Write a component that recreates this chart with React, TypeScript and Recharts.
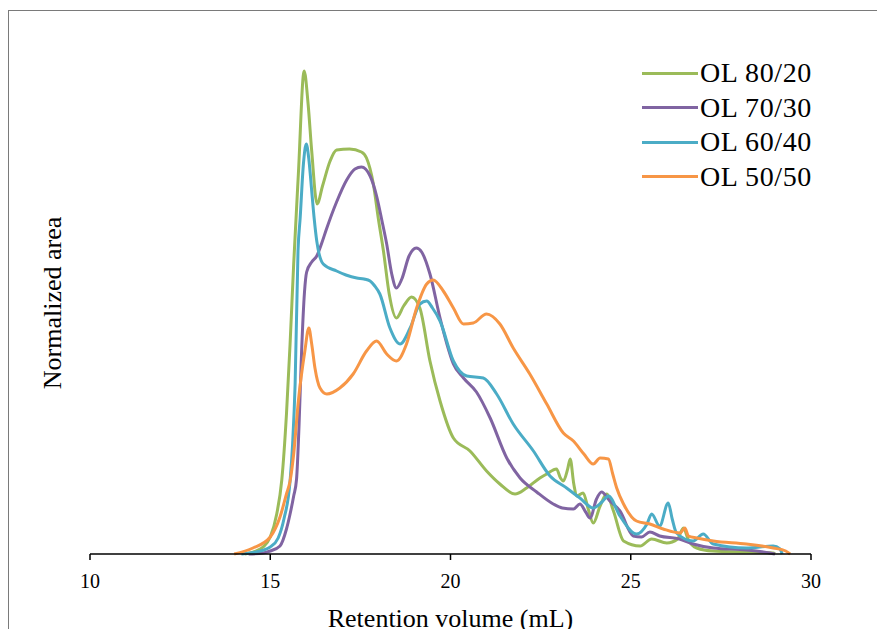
import { Legend, Line, LineChart, XAxis, YAxis } from "recharts";

// retention volume (mL) vs normalized area
const ol8020 = [
  { v: 14.3, a: 0 }, { v: 14.6, a: 3 }, { v: 14.8, a: 7 }, { v: 15.0, a: 17 }, { v: 15.18, a: 40 },
  { v: 15.32, a: 74 }, { v: 15.45, a: 140 }, { v: 15.55, a: 210 }, { v: 15.65, a: 290 }, { v: 15.78, a: 380 },
  { v: 15.94, a: 483 }, { v: 16.05, a: 450 }, { v: 16.15, a: 403 }, { v: 16.3, a: 350 }, { v: 16.45, a: 368 },
  { v: 16.66, a: 393 }, { v: 16.84, a: 404 }, { v: 17.2, a: 405 }, { v: 17.53, a: 402 }, { v: 17.67, a: 396 },
  { v: 17.86, a: 370 }, { v: 18.0, a: 335 }, { v: 18.14, a: 303 }, { v: 18.3, a: 260 }, { v: 18.5, a: 236 },
  { v: 18.7, a: 248 }, { v: 18.92, a: 257 }, { v: 19.15, a: 246 }, { v: 19.43, a: 193 }, { v: 19.71, a: 153 },
  { v: 20.08, a: 116 }, { v: 20.54, a: 103 }, { v: 21.0, a: 83 }, { v: 21.37, a: 70 }, { v: 21.79, a: 60 },
  { v: 22.11, a: 66 }, { v: 22.48, a: 76 }, { v: 22.67, a: 80 }, { v: 22.94, a: 85 }, { v: 23.05, a: 76 },
  { v: 23.13, a: 73 }, { v: 23.25, a: 85 }, { v: 23.32, a: 95 }, { v: 23.42, a: 70 }, { v: 23.5, a: 58 },
  { v: 23.68, a: 61 }, { v: 23.82, a: 45 }, { v: 23.96, a: 31 }, { v: 24.15, a: 48 }, { v: 24.33, a: 60 },
  { v: 24.52, a: 43 }, { v: 24.8, a: 13 }, { v: 25.26, a: 8 }, { v: 25.58, a: 15 }, { v: 26.0, a: 11 },
  { v: 26.3, a: 15 }, { v: 26.46, a: 26 }, { v: 26.6, a: 14 }, { v: 26.83, a: 6 }, { v: 27.28, a: 3 },
  { v: 28.2, a: 2 }, { v: 28.95, a: 1 }, { v: 29.0, a: 0 },
];

const ol7030 = [
  { v: 14.4, a: 0 }, { v: 14.8, a: 1 }, { v: 15.0, a: 3 }, { v: 15.27, a: 8 }, { v: 15.45, a: 25 },
  { v: 15.55, a: 40 }, { v: 15.65, a: 58 }, { v: 15.73, a: 75 }, { v: 15.8, a: 130 }, { v: 15.87, a: 203 },
  { v: 15.95, a: 262 }, { v: 16.01, a: 282 }, { v: 16.15, a: 292 }, { v: 16.29, a: 298 }, { v: 16.42, a: 310 },
  { v: 16.56, a: 325 }, { v: 16.84, a: 352 }, { v: 17.12, a: 374 }, { v: 17.35, a: 385 }, { v: 17.53, a: 387 },
  { v: 17.77, a: 378 }, { v: 17.95, a: 358 }, { v: 18.1, a: 333 }, { v: 18.23, a: 310 }, { v: 18.37, a: 280 },
  { v: 18.5, a: 266 }, { v: 18.65, a: 275 }, { v: 18.85, a: 298 }, { v: 19.05, a: 306 }, { v: 19.2, a: 302 },
  { v: 19.43, a: 280 }, { v: 19.71, a: 236 }, { v: 19.9, a: 210 }, { v: 20.08, a: 190 }, { v: 20.36, a: 176 },
  { v: 20.72, a: 162 }, { v: 21.1, a: 136 }, { v: 21.56, a: 96 }, { v: 21.93, a: 76 }, { v: 22.39, a: 62 },
  { v: 22.85, a: 50 }, { v: 23.1, a: 46 }, { v: 23.41, a: 45 }, { v: 23.59, a: 50 }, { v: 23.75, a: 42 },
  { v: 23.87, a: 36 }, { v: 24.05, a: 55 }, { v: 24.19, a: 62 }, { v: 24.42, a: 53 }, { v: 24.7, a: 43 },
  { v: 25.07, a: 18 }, { v: 25.3, a: 17 }, { v: 25.53, a: 22 }, { v: 25.8, a: 18 }, { v: 26.35, a: 15 },
  { v: 26.73, a: 10 }, { v: 27.29, a: 6 }, { v: 28.21, a: 4 }, { v: 28.86, a: 1 }, { v: 29.0, a: 0 },
];

const ol6040 = [
  { v: 14.2, a: 0 }, { v: 14.6, a: 2 }, { v: 15.0, a: 7 }, { v: 15.22, a: 16 }, { v: 15.38, a: 35 },
  { v: 15.55, a: 73 }, { v: 15.62, a: 110 }, { v: 15.69, a: 170 }, { v: 15.77, a: 303 }, { v: 15.83, a: 336 },
  { v: 15.92, a: 390 }, { v: 16.0, a: 410 }, { v: 16.07, a: 395 }, { v: 16.15, a: 363 }, { v: 16.22, a: 335 },
  { v: 16.29, a: 313 }, { v: 16.47, a: 290 }, { v: 16.84, a: 283 }, { v: 17.1, a: 279 }, { v: 17.4, a: 276 },
  { v: 17.6, a: 275 }, { v: 17.77, a: 273 }, { v: 17.9, a: 268 }, { v: 18.04, a: 260 }, { v: 18.32, a: 226 },
  { v: 18.6, a: 210 }, { v: 18.88, a: 226 }, { v: 19.15, a: 250 }, { v: 19.34, a: 253 }, { v: 19.5, a: 246 },
  { v: 19.71, a: 233 }, { v: 20.08, a: 193 }, { v: 20.45, a: 178 }, { v: 20.91, a: 176 }, { v: 21.28, a: 160 },
  { v: 21.74, a: 130 }, { v: 22.3, a: 103 }, { v: 22.76, a: 78 }, { v: 23.22, a: 66 }, { v: 23.59, a: 56 },
  { v: 23.96, a: 46 }, { v: 24.2, a: 52 }, { v: 24.38, a: 58 }, { v: 24.7, a: 38 }, { v: 25.16, a: 20 },
  { v: 25.45, a: 30 }, { v: 25.58, a: 40 }, { v: 25.8, a: 28 }, { v: 26.04, a: 51 }, { v: 26.15, a: 35 },
  { v: 26.27, a: 21 }, { v: 26.73, a: 13 }, { v: 27.01, a: 20 }, { v: 27.29, a: 10 }, { v: 28.21, a: 6 },
  { v: 28.95, a: 8 }, { v: 29.14, a: 5 }, { v: 29.2, a: 0 },
];

const ol5050 = [
  { v: 14.0, a: 0 }, { v: 14.52, a: 6 }, { v: 15.0, a: 17 }, { v: 15.27, a: 37 }, { v: 15.45, a: 60 },
  { v: 15.55, a: 73 }, { v: 15.65, a: 100 }, { v: 15.78, a: 153 }, { v: 15.96, a: 203 }, { v: 16.07, a: 226 },
  { v: 16.15, a: 210 }, { v: 16.24, a: 186 }, { v: 16.38, a: 166 }, { v: 16.57, a: 160 }, { v: 16.93, a: 166 },
  { v: 17.3, a: 180 }, { v: 17.67, a: 203 }, { v: 17.95, a: 213 }, { v: 18.23, a: 200 }, { v: 18.5, a: 193 },
  { v: 18.78, a: 210 }, { v: 19.06, a: 246 }, { v: 19.34, a: 270 }, { v: 19.52, a: 274 }, { v: 19.8, a: 263 },
  { v: 20.08, a: 246 }, { v: 20.36, a: 230 }, { v: 20.63, a: 231 }, { v: 21.0, a: 240 }, { v: 21.37, a: 230 },
  { v: 21.74, a: 206 }, { v: 22.2, a: 180 }, { v: 22.67, a: 150 }, { v: 23.13, a: 121 }, { v: 23.41, a: 113 },
  { v: 23.7, a: 100 }, { v: 23.96, a: 90 }, { v: 24.15, a: 96 }, { v: 24.38, a: 95 }, { v: 24.5, a: 80 },
  { v: 24.61, a: 66 }, { v: 24.8, a: 50 }, { v: 25.16, a: 33 }, { v: 25.53, a: 30 }, { v: 25.9, a: 25 },
  { v: 26.37, a: 21 }, { v: 26.5, a: 26 }, { v: 26.6, a: 18 }, { v: 26.83, a: 16 }, { v: 27.29, a: 13 },
  { v: 28.21, a: 10 }, { v: 28.95, a: 6 }, { v: 29.3, a: 3 }, { v: 29.42, a: 0 },
];

const xTicks = [10, 15, 20, 25, 30];

const series = [
  { name: "OL 80/20", color: "#9BBB59", data: ol8020 },
  { name: "OL 70/30", color: "#8064A2", data: ol7030 },
  { name: "OL 60/40", color: "#4BACC6", data: ol6040 },
  { name: "OL 50/50", color: "#F79646", data: ol5050 },
];

const serif = "'Liberation Serif', 'Times New Roman', serif";

const renderLegend = () => (
  <div style={{ fontFamily: serif, fontSize: 28, color: "#000", letterSpacing: 0.6 }}>
    {series.map((s) => (
      <div key={s.name} style={{ display: "flex", alignItems: "center", height: 34.5 }}>
        <div style={{ width: 56, height: 3, background: s.color, marginRight: 2 }} />
        <span style={{ lineHeight: "34.5px" }}>{s.name}</span>
      </div>
    ))}
  </div>
);

// both axis titles are drawn here; the y axis is hidden like in the original
const axisTitles = () => (
  <g>
    <text x={450.5} y={627} textAnchor="middle" fontFamily={serif} fontSize={26} fill="#000">
      Retention volume (mL)
    </text>
    <text x={61} y={303} transform="rotate(-90, 61, 303)" textAnchor="middle" fontFamily={serif} fontSize={26} fill="#000">
      Normalized area
    </text>
  </g>
);

const App = () => {
  return (
    <div style={{ position: "absolute", left: 0, top: 0, width: 877, height: 629, overflow: "hidden", background: "#fff" }}>
      <div
        style={{
          position: "absolute",
          left: 8,
          top: 10,
          width: 900,
          height: 700,
          borderTop: "1.5px solid #7a7a7a",
          borderLeft: "1.5px solid #7a7a7a",
        }}
      />
      <LineChart width={877} height={629} margin={{ top: 54, right: 66, bottom: 30, left: 90 }} style={{ position: "absolute", left: 0, top: 0 }}>
        <XAxis
          dataKey="v"
          type="number"
          domain={[10, 30]}
          ticks={xTicks}
          allowDataOverflow
          height={45}
          tickSize={6}
          tickMargin={14}
          axisLine={{ stroke: "#000", strokeWidth: 1.5 }}
          tickLine={{ stroke: "#000", strokeWidth: 1.5 }}
          tick={{ fill: "#000", fontSize: 20, fontFamily: serif }}
          label={{ content: axisTitles }}
        />
        <YAxis dataKey="a" type="number" domain={[0, 500]} hide />
        <Legend
          layout="vertical"
          align="center"
          verticalAlign="middle"
          content={renderLegend}
          wrapperStyle={{ left: 642, top: 56, width: 230 }}
        />
        {series.map((s) => (
          <Line
            key={s.name}
            data={s.data}
            dataKey="a"
            name={s.name}
            type="monotone"
            stroke={s.color}
            strokeWidth={3}
            dot={false}
            isAnimationActive={false}
          />
        ))}
      </LineChart>
    </div>
  );
};

export default App;
